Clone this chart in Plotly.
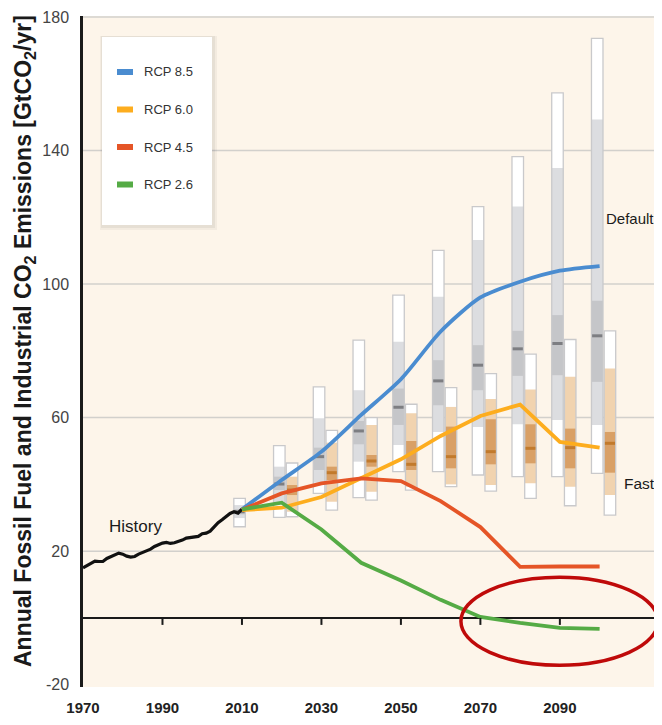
import plotly.graph_objects as go

# ---------------- data ----------------
hist_years = list(range(1970, 2011))
hist_vals = [15.0, 15.6, 16.3, 17.0, 16.9, 16.9, 17.8, 18.3, 18.9, 19.4, 19.1,
             18.5, 18.2, 18.4, 19.1, 19.6, 20.1, 20.6, 21.4, 21.9, 22.4,
             22.6, 22.3, 22.5, 22.8, 23.3, 23.9, 24.1, 24.1, 24.4, 25.2,
             25.4, 26.0, 27.3, 28.5, 29.4, 30.4, 31.3, 31.8, 31.4, 32.6]

rcp_years = [2010, 2020, 2030, 2040, 2050, 2060, 2070, 2080, 2090, 2100]
rcp_names = ["RCP 8.5", "RCP 6.0", "RCP 4.5", "RCP 2.6"]
rcp85 = [32.5, 41.3, 49.8, 60.8, 71.5, 85.8, 96.0, 100.7, 104.0, 105.4]
rcp60 = [32.3, 33.0, 36.2, 41.9, 47.5, 54.5, 60.5, 63.9, 52.7, 51.0]
rcp45 = [32.4, 37.3, 40.3, 41.8, 41.0, 35.0, 27.2, 15.3, 15.4, 15.4]
rcp26 = [32.5, 34.5, 26.5, 16.5, 11.2, 5.4, 0.3, -1.5, -3.0, -3.3]

# "Default" model-range boxes (grey)
def_years = [2010, 2020, 2030, 2040, 2050, 2060, 2070, 2080, 2090, 2100]
def_min = [27.3, 30.1, 37.3, 36.0, 43.8, 43.8, 42.8, 42.3, 42.3, 43.3]
def_lo = [29.9, 34.3, 40.5, 46.8, 51.8, 55.7, 57.2, 58.0, 59.3, 57.8]
def_q1 = [31.0, 38.3, 44.3, 52.0, 57.8, 63.7, 68.2, 72.5, 72.7, 70.7]
def_med = [31.8, 40.1, 48.3, 56.0, 63.1, 71.0, 75.7, 80.6, 82.2, 84.5]
def_q3 = [32.6, 42.3, 51.0, 59.0, 68.7, 77.2, 81.7, 86.0, 90.7, 95.0]
def_hi = [33.8, 45.3, 59.8, 68.2, 82.7, 96.2, 113.2, 123.2, 134.8, 149.3]
def_max = [35.8, 51.6, 69.2, 83.2, 96.7, 110.1, 123.2, 138.2, 157.3, 173.6]

# "Fast" model-range boxes (tan)
fast_years = [2020, 2030, 2040, 2050, 2060, 2070, 2080, 2090, 2100]
fast_min = [30.3, 32.3, 35.3, 38.3, 39.3, 38.0, 35.8, 33.6, 30.8]
fast_lo = [31.8, 34.8, 37.8, 39.3, 40.0, 39.8, 40.3, 39.3, 36.8]
fast_q1 = [36.8, 41.3, 45.3, 44.3, 44.8, 46.0, 46.3, 44.8, 43.5]
fast_med = [38.3, 43.5, 47.0, 46.0, 48.3, 49.8, 50.8, 51.0, 52.3]
fast_q3 = [39.8, 45.3, 48.8, 53.0, 57.3, 59.5, 58.0, 56.7, 55.7]
fast_hi = [42.3, 52.5, 57.8, 61.3, 63.2, 65.6, 68.4, 72.2, 74.7]
fast_max = [46.4, 56.2, 60.0, 64.0, 69.0, 73.2, 79.0, 83.4, 86.0]

x_ticks = [1970, 1990, 2010, 2030, 2050, 2070, 2090]
y_ticks = [-20, 20, 60, 100, 140, 180]
grid_vals = [20, 60, 100, 140, 180]

# ---------------- styling ----------------
SANS = "Liberation Sans, Arial, sans-serif"
line_colors = ["#4A8CD0", "#FDAD1E", "#E55527", "#55AB45"]
BOX_W = 2.9
DEF_OFF = -0.6
FAST_OFF = 2.6

fig = go.Figure()


def add_boxes(years, off, mn, lo, q1, md, q3, hi, mx, c_light, c_mid, c_med):
    xs = [y + off for y in years]
    fig.add_trace(go.Bar(x=xs, base=mn, y=[b - a for a, b in zip(mn, mx)], width=BOX_W,
                         marker=dict(color="white", line=dict(width=0)), hoverinfo="skip"))
    fig.add_trace(go.Bar(x=xs, base=lo, y=[b - a for a, b in zip(lo, hi)], width=BOX_W,
                         marker=dict(color=c_light, line=dict(width=0)), hoverinfo="skip"))
    fig.add_trace(go.Bar(x=xs, base=q1, y=[b - a for a, b in zip(q1, q3)], width=BOX_W,
                         marker=dict(color=c_mid, line=dict(width=0)), hoverinfo="skip"))
    fig.add_trace(go.Bar(x=xs, base=[m - 0.45 for m in md], y=[0.9] * len(md), width=BOX_W,
                         marker=dict(color=c_med, line=dict(width=0)), hoverinfo="skip"))
    fig.add_trace(go.Bar(x=xs, base=mn, y=[b - a for a, b in zip(mn, mx)], width=BOX_W,
                         marker=dict(color="rgba(0,0,0,0)", line=dict(width=1.3, color="#C9C9CB")),
                         hoverinfo="skip"))


add_boxes(def_years, DEF_OFF, def_min, def_lo, def_q1, def_med, def_q3, def_hi, def_max,
          "#DCDDE0", "#C5C6C9", "#7D7E82")
add_boxes(fast_years, FAST_OFF, fast_min, fast_lo, fast_q1, fast_med, fast_q3, fast_hi, fast_max,
          "#F1D3AF", "#D9A066", "#C27A2C")

fig.add_trace(go.Scatter(x=hist_years, y=hist_vals, mode="lines",
                         line=dict(color="#111111", width=3.2), hoverinfo="skip"))

for name, vals, col in zip(rcp_names, [rcp85, rcp60, rcp45, rcp26], line_colors):
    shape = "spline" if name == "RCP 8.5" else "linear"
    fig.add_trace(go.Scatter(x=rcp_years, y=vals, mode="lines", name=name,
                             line=dict(color=col, width=3.8, shape=shape, smoothing=0.7),
                             hoverinfo="skip"))

# ---------------- layout ----------------
# the page body adds an 8px offset, so the figure is 8px smaller and shifted
OFF = 8
W, H = 662 - OFF, 725 - OFF
L, R, T, B = 83 - OFF, 0, 16 - OFF, 38
PW, PH = W - L - R, H - T - B


def px_x(px):
    return (px - OFF - L) / PW


def px_y(py):
    return (H - B - (py - OFF)) / PH


shapes = []
for g in grid_vals:
    shapes.append(dict(type="line", xref="paper", yref="y", x0=0, x1=1, y0=g, y1=g,
                       line=dict(color="#D2D0CC", width=1.5), layer="below"))
for t in x_ticks[1:]:
    shapes.append(dict(type="line", xref="x", yref="y", x0=t, x1=t, ysizemode="pixel",
                       yanchor=0, y0=0, y1=-7, line=dict(color="#1a1a1a", width=2)))
# red ellipse highlight
shapes.append(dict(type="circle", xref="x", yref="y", x0=2065.1, x1=2114.7, y0=-14.2, y1=12.2,
                   line=dict(color="#BF0A0A", width=3.5), layer="above"))
# legend box with soft shadow
shapes.append(dict(type="rect", xref="paper", yref="paper", x0=px_x(100), x1=px_x(217),
                   y0=px_y(230), y1=px_y(36), fillcolor="rgba(0,0,0,0.04)", line=dict(width=0),
                   layer="above"))
shapes.append(dict(type="rect", xref="paper", yref="paper", x0=px_x(101), x1=px_x(215),
                   y0=px_y(228), y1=px_y(36), fillcolor="rgba(0,0,0,0.05)", line=dict(width=0),
                   layer="above"))
shapes.append(dict(type="rect", xref="paper", yref="paper", x0=px_x(102), x1=px_x(212),
                   y0=px_y(225), y1=px_y(37), fillcolor="white", line=dict(width=0),
                   layer="above"))

annotations = []
leg_y = [72, 109.5, 147, 184.5]
for name, col, yy in zip(rcp_names, line_colors, leg_y):
    shapes.append(dict(type="rect", xref="paper", yref="paper", x0=px_x(117), x1=px_x(133),
                       y0=px_y(yy + 3), y1=px_y(yy - 3), fillcolor=col, line=dict(width=0),
                       layer="above"))
    annotations.append(dict(text=name, xref="paper", yref="paper", x=px_x(142), y=px_y(yy),
                            xanchor="left", yanchor="middle", showarrow=False,
                            font=dict(family=SANS, size=13, color="#333333")))

annotations += [
    dict(text="History", x=1983.3, y=27.5, xref="x", yref="y", showarrow=False,
         font=dict(family=SANS, size=17, color="#1a1a1a")),
    dict(text="Default", x=2101.4, y=119.5, xref="x", yref="y", xanchor="left", showarrow=False,
         borderpad=0, font=dict(family=SANS, size=15, color="#1a1a1a")),
    dict(text="Fast", x=2105.9, y=40.4, xref="x", yref="y", xanchor="left", showarrow=False,
         borderpad=0, font=dict(family=SANS, size=15.5, color="#1a1a1a")),
    dict(text="Annual Fossil Fuel and Industrial CO<sub>2</sub> Emissions [GtCO<sub>2</sub>/yr]",
         xref="paper", yref="paper", x=0, y=px_y(341), xshift=-59, xanchor="center",
         yanchor="middle", textangle=-90, showarrow=False,
         font=dict(family=SANS, size=23, color="#1a1a1a", weight="bold")),
]

fig.update_layout(
    width=W, height=H, margin=dict(l=L, r=R, t=T, b=B, autoexpand=False),
    paper_bgcolor="white", plot_bgcolor="#FDF5EA",
    barmode="overlay", showlegend=False,
    shapes=shapes, annotations=annotations,
    xaxis=dict(range=[1970, 2115.7], tickvals=x_ticks, ticktext=[str(t) for t in x_ticks],
               showgrid=False, zeroline=False, showline=False, ticks="",
               ticklabelstandoff=10, automargin=False,
               tickfont=dict(family=SANS, size=15, color="#222222", weight="bold")),
    yaxis=dict(range=[-20.7, 180.3], tickvals=y_ticks, ticktext=[str(t) for t in y_ticks],
               showgrid=False, automargin=False,
               zeroline=True, zerolinecolor="#1a1a1a", zerolinewidth=1.5,
               showline=True, linecolor="#1a1a1a", linewidth=2.5, ticks="",
               ticklabelstandoff=8,
               tickfont=dict(family=SANS, size=16, color="#444444")),
)

fig.write_html("out.html")
